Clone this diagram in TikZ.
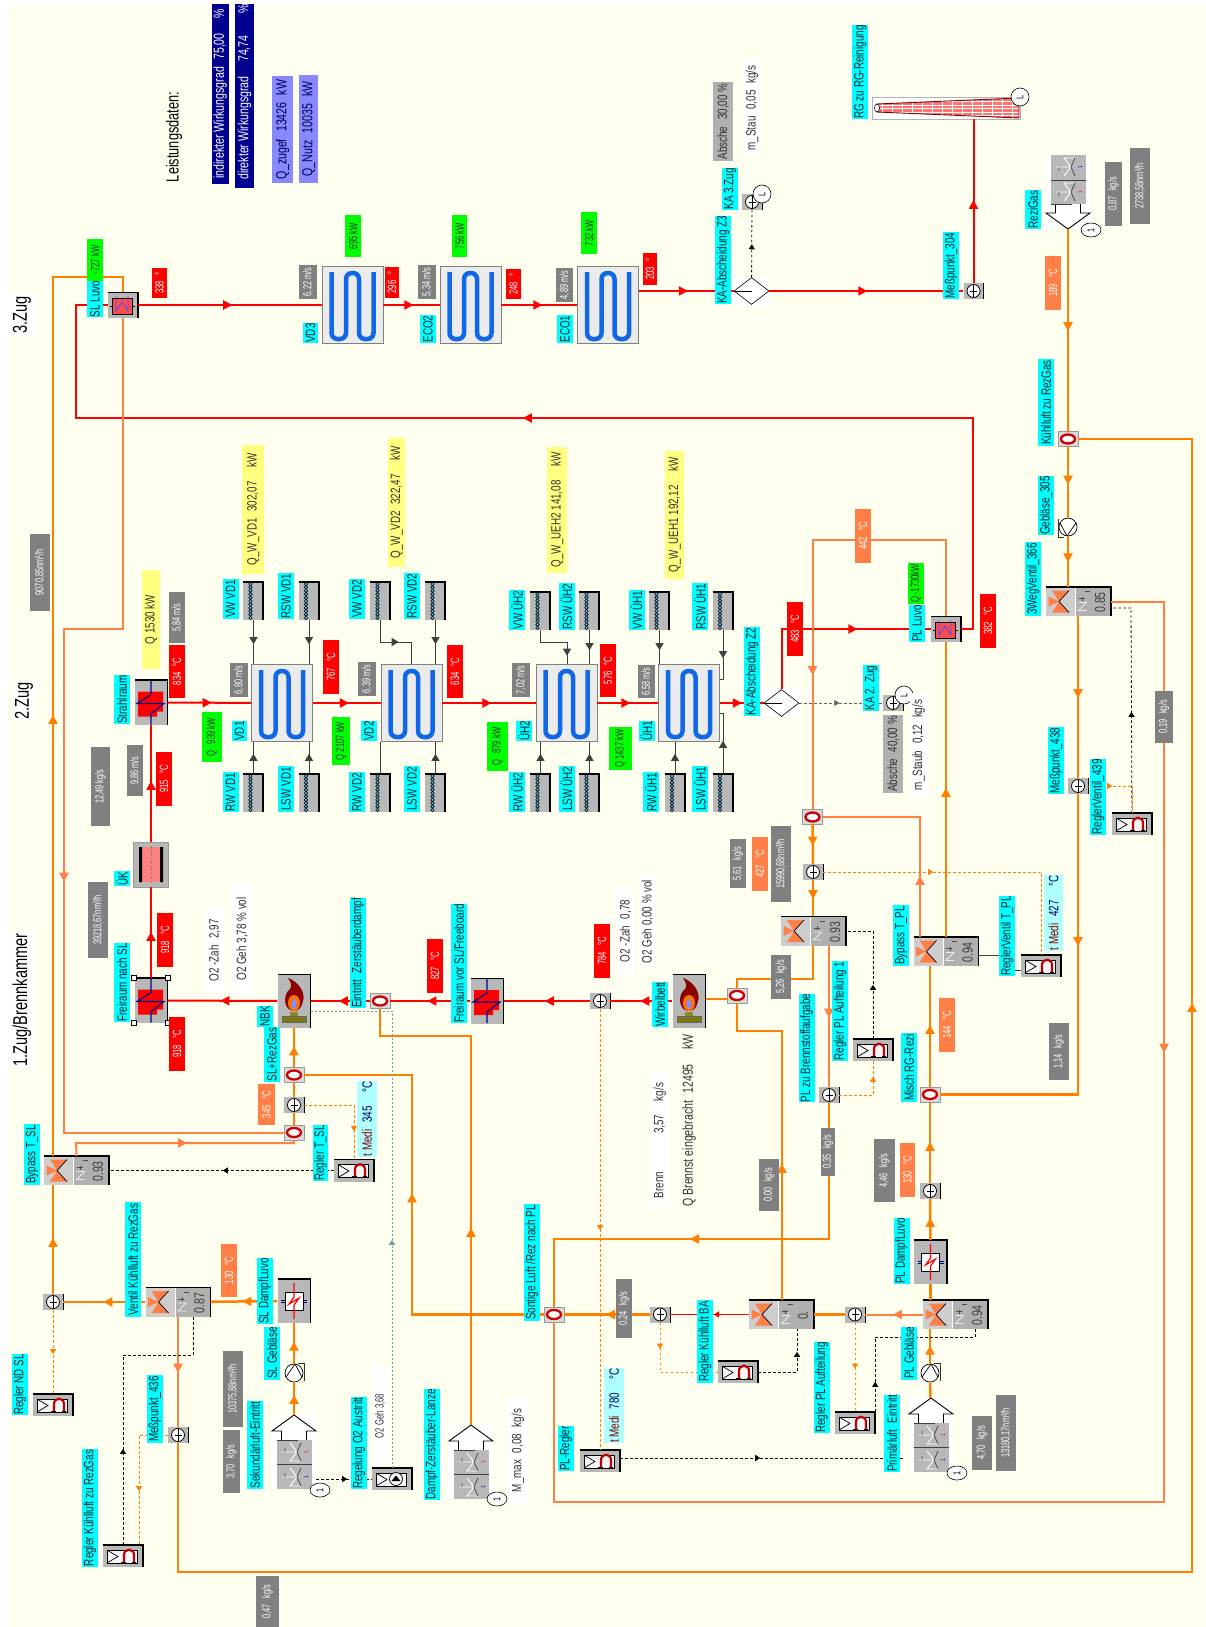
\documentclass[tikz,border=0pt]{standalone}
\usepackage{fontspec}
\setmainfont{Liberation Sans}[FakeStretch=0.73]
\newfontfamily\narrowfont{Liberation Sans}[FakeStretch=0.64]
\usetikzlibrary{arrows.meta,positioning,shapes.geometric,calc,decorations.markings}
\definecolor{ivory}{RGB}{255,255,240}
\definecolor{tagcyan}{RGB}{0,255,255}
\definecolor{tagtext}{RGB}{0,40,55}
\definecolor{kwgreen}{RGB}{0,255,0}
\definecolor{gasred}{RGB}{255,0,0}
\definecolor{airorange}{RGB}{255,128,0}
\definecolor{coralair}{RGB}{255,127,70}
\definecolor{valgray}{RGB}{128,128,128}
\definecolor{ashgray}{RGB}{176,176,176}
\definecolor{casegray}{RGB}{184,184,184}
\definecolor{qyellow}{RGB}{255,255,128}
\definecolor{navyq}{RGB}{0,0,144}
\definecolor{lavq}{RGB}{136,136,255}
\definecolor{medicyan}{RGB}{175,255,255}
\definecolor{coilblue}{RGB}{16,104,232}
\definecolor{ctrlteal}{RGB}{112,160,160}
\newcommand{\tagfont}{\fontsize{13.5}{15}\selectfont}
\newcommand{\valfont}{\narrowfont\fontsize{12}{13}\selectfont}
\tikzset{
  ftip/.tip={Triangle[length=9pt,width=9pt]},
  ctip/.tip={Triangle[length=5pt,width=6pt]},
  wtip/.tip={Triangle[length=7pt,width=8pt]},
  flow/.style={postaction={decorate,decoration={markings,mark=at position #1 with {\arrow{ftip}}}}},
  cflow/.style={postaction={decorate,decoration={markings,mark=at position #1 with {\arrow{ctip}}}}},
  wflow/.style={postaction={decorate,decoration={markings,mark=at position #1 with {\arrow{wtip}}}}},
  gas/.style={color=gasred,line width=2pt},
  gasthin/.style={color=gasred,line width=1.2pt},
  air/.style={color=airorange,line width=2.5pt},
  coral/.style={color=coralair,line width=2pt},
  ctrl/.style={color=black,line width=.8pt,dash pattern=on 2.5pt off 2.5pt},
  ctrlor/.style={color=airorange,line width=.8pt,dash pattern=on 2.5pt off 2.5pt},
  ctrlteal/.style={color=ctrlteal,line width=.9pt,dash pattern=on 2pt off 2pt},
  wire/.style={color=black!75,line width=.9pt},
  bx/.style 2 args={minimum width=#1pt,minimum height=#2pt},
  lab/.style={rotate=90,inner sep=0pt,font=\tagfont},
  tagbox/.style={lab,fill=tagcyan,text=tagtext},
  kwbox/.style={lab,fill=kwgreen,text=black!80,font=\valfont},
  redbox/.style={lab,fill=gasred,text=white,font=\valfont},
  orbox/.style={lab,fill=coralair,text=white,font=\valfont},
  graybox/.style={lab,fill=valgray,text=white,font=\narrowfont\fontsize{11.5}{13}\selectfont},
  ashbox/.style={lab,fill=ashgray,text=black!80},
  whitebox/.style={lab,fill=white,text=black!80},
  yelbox/.style={lab,fill=qyellow,text=black!80},
  navybox/.style={lab,fill=navyq,text=white,font=\fontsize{14.5}{16}\selectfont},
  lavbox/.style={lab,fill=lavq,text=navyq!60!black,font=\fontsize{14.5}{16}\selectfont},
  medibox/.style={lab,fill=medicyan,text=navyq!70!black},
  zugbox/.style={lab,fill=white,text=black,font=\fontsize{20}{22}\selectfont},
  hxcase/.style={draw=black!50,fill=black!8,line width=.8pt,bx={61}{77},inner sep=0pt},
  unit/.style={fill=casegray,inner sep=0pt},
  ventcase/.style={draw=black!40,fill=black!15,inner sep=0pt,bx={20}{15}},
  meascase/.style={unit,bx={20}{16}},
  sep/.style={diamond,aspect=1.3,draw=black,fill=white,line width=.6pt,bx={35}{27},inner sep=0pt},
  lcirc/.style={circle,draw=black,fill=white,minimum size=18pt,inner sep=0pt,rotate=90,font=\fontsize{10}{11}\selectfont,line width=.6pt},
  numell/.style={ellipse,draw=black,fill=white,bx={14}{20},inner sep=0pt,rotate=90,font=\fontsize{10}{11}\selectfont,line width=.6pt},
  edge/.style={black,line width=1.2pt}
}
\newcommand{\hxunit}[3]{
  \begin{scope}[shift={(#2,#3)}]
    \node[hxcase] (#1) at (0,0) {};
    \draw[coilblue,line width=4.5pt,rounded corners=6pt] (-21,-33)--(-21,34)--(-6.5,34)--(-6.5,-32)--(6.5,-32)--(6.5,34)--(21,34)--(21,-33);
  \end{scope}}
\newcommand{\coilbox}[3]{
  \begin{scope}[shift={(#2,#3)}]
    \node[unit,bx={21}{38}] (#1) at (0,0) {};
    \draw[edge] (-10.5,-19)--(10.5,-19);
    \draw[black,line width=2pt] (9.5,-19)--(9.5,19);
    \foreach \cy in {-17,-13.6,...,17}
      \draw[black,fill=cyan!70,line width=.6pt] (-3,\cy) circle[radius=1.8pt];
  \end{scope}}
\newcommand{\radunit}[3]{
  \begin{scope}[shift={(#2,#3)}]
    \node[unit,bx={33}{45}] (#1) at (0,0) {};
    \draw[edge] (-16.5,-22.5)--(16.5,-22.5)--(16.5,22.5);
    \fill[gasred] (-13,-11)--(12,-11)--(12,9)--(6,9)--(6,14)--(-13,14)--cycle;
    \draw[navyq,line width=1.1pt] (0,-22)--(0,-8)--(-14,1)--(13,1)--(0,11)--(0,22);
  \end{scope}}
\newcommand{\luvo}[3]{
  \begin{scope}[shift={(#2,#3)}]
    \node[unit,bx={30}{25}] (#1) at (0,0) {};
    \draw[edge] (-15,-12.5)--(15,-12.5)--(15,12.5);
    \draw[black,fill=red!70!white,line width=.8pt] (-11,-7) rectangle (9,9);
    \draw[black,line width=.8pt] (-13,1)--(-11,1) (9,1)--(12,1);
    \draw[blue!70!white,line width=.9pt] (-7,-9)--(-7,6)--(-1,-3)--(5,6)--(5,-9);
  \end{scope}}
\newcommand{\burner}[3]{
  \begin{scope}[shift={(#2,#3)}]
    \node[unit,bx={33}{53}] (#1) at (0,0) {};
    \draw[edge] (-16.5,-26.5)--(16.5,-26.5)--(16.5,26.5);
    \fill[red!55!black] (0,10) .. controls (-10,10) and (-12,-6) .. (-4,-12) .. controls (-1,-15) and (-4,-20) .. (-6,-23) .. controls (4,-20) and (12,-8) .. (9,0) .. controls (8,6) and (5,10) .. (0,10) -- cycle;
    \fill[orange!90!red] (0,2) ellipse[x radius=6pt,y radius=8pt];
    \fill[lavq] (0,3) ellipse[x radius=2.5pt,y radius=5pt];
    \fill[olive!80!black!85] (-4,11) rectangle (4,15);
    \draw[black!60,fill=olive!85!black] (-12,15) rectangle (12,21);
  \end{scope}}
\newcommand{\dampfunit}[3]{
  \begin{scope}[shift={(#2,#3)}]
    \node[unit,bx={33}{44}] (#1) at (0,0) {};
    \draw[edge] (-16.5,-22)--(16.5,-22)--(16.5,22);
    \draw[black,fill=white,line width=.8pt] (-9,-9) rectangle (9,9);
    \draw[navyq,line width=.8pt] (-13,-1)--(-9,-1) (-13,1.5)--(-9,1.5) (9,-1)--(13,-1) (9,1.5)--(13,1.5);
    \draw[gasred,line width=1.2pt] (0,-18)--(0,-4)--(-5,3)--(5,-3)--(0,4)--(0,18);
  \end{scope}}
\newcommand{\meas}[3]{
  \begin{scope}[shift={(#2,#3)}]
    \node[meascase] (#1) at (0,0) {};
    \draw[black,fill=white,line width=.8pt] (0,0) circle[radius=6.5pt];
    \draw[black,line width=.8pt] (0,-6)--(0,6) (-3.5,0)--(3.5,0);
    \draw[black,line width=.8pt] (10,-8)--(10,8);
  \end{scope}}
\newcommand{\ventil}[3]{
  \begin{scope}[shift={(#2,#3)}]
    \node[ventcase] (#1) at (0,0) {};
    \draw[red!80!black,fill=white,line width=2.3pt] (0,0) ellipse[x radius=7pt,y radius=4.5pt];
  \end{scope}}
\newcommand{\valve}[4]{
  \begin{scope}[shift={(#2,#3)}]
    \node[unit,fill=ashgray,bx={65}{29}] (#1) at (0,0) {};
    \fill[casegray!70!white] (-32.5,-14.5) rectangle (-3,14.5);
    \fill[coralair] (-26.5,-11)--(-9.5,-11)--(-19.5,0)--cycle;
    \fill[coralair] (-26.5,11)--(-9.5,11)--(-19.5,0)--cycle;
    \fill[coralair] (-30,-5)--(-30,5)--(-19.5,0)--cycle;
    \draw[black,line width=.7pt] (-9.5,-11)--(-19.5,0)--(-9.5,11);
    \draw[white,line width=.3pt] (-3,-14.5)--(-3,14.5);
    \draw[white!85!gray,line width=.8pt] (0,1)--(8,1)--(0,9)--(8,9);
    \draw[black!70,line width=.7pt] (0,-3)--(6,-3) (4,-5)--(4,-1) (6,-10)--(11,-10);
    \node[lab,font=\fontsize{14.5}{16}\selectfont,text=black!75] (#1val) at (21.5,1) {#4};
    \draw[edge] (-32.5,-14.5)--(32.5,-14.5)--(32.5,14.5);
  \end{scope}}
\newcommand{\reglerbody}[3]{
  \begin{scope}[shift={(#2,#3)}]
    \node[unit,bx={40}{22}] (#1) at (0,0) {};
    \draw[edge] (-20,-11)--(20,-11)--(20,11);
    \draw[black,fill=white!92!gray,line width=.7pt] (-16,-6) rectangle (14,7);
    \draw[black,line width=.7pt] (-16,-6)--(-5,.5)--(-16,7);
  \end{scope}}
\newcommand{\regler}[3]{
  \reglerbody{#1}{#2}{#3}
  \begin{scope}[shift={(#2,#3)}]
    \draw[red!75!black,line width=2.2pt] (1,6)--(1,-1) .. controls (1,-8) and (11,-8) .. (11,-1) -- (11,6);
    \draw[black,line width=1.2pt] (-2,6.5)--(3,6.5) (9,6.5)--(13,6.5);
  \end{scope}}
\newcommand{\source}[4]{
  \begin{scope}[shift={(#2,#3)},yscale=#4]
    \node[fill=white,inner sep=0pt,bx={44}{74}] (#1) at (0,37) {};
    \draw[black,line width=.9pt] (-12.5,25)--(-12.5,16)--(-22,16)--(0,0)--(22,16)--(12.5,16)--(12.5,25);
    \fill[casegray] (-17.5,25) rectangle (17.5,74);
    \draw[black!75,line width=.9pt] (-17.5,25)--(4,25) (-17.5,49)--(17.5,49);
    \foreach \py in {37,62} {
      \draw[white,line width=.9pt] (-4,\py-9)--(3,\py)--(-4,\py+9)--(7,\py+9) (-12,\py)--(3,\py);
      \draw[black!70,line width=.8pt] (7,\py-9)--(3,\py)--(7,\py+9) (-9,\py-4)--(-9,\py);
    }
    \node[lab,text=gasred,font=\fontsize{6}{7}\selectfont] (#1a) at (12,37) {1.};
    \node[lab,text=navyq,font=\fontsize{6}{7}\selectfont] (#1b) at (12,62) {1.};
  \end{scope}}
\newcommand{\pump}[4]{
  \begin{scope}[shift={(#2,#3)},xscale=#4,yscale=#4]
    \node[circle,draw=black,fill=white,minimum size=18pt,inner sep=0pt,line width=.7pt] (#1) at (0,0) {};
    \draw[black,line width=.7pt] (1,-9)--(-8,4) (1,-9)--(8,4);
    \draw[black!80,line width=.8pt] (4,-10)--(10,-10)--(10,8);
  \end{scope}}
\begin{document}
\begin{tikzpicture}[x=1pt,y=-1pt,font=\tagfont]
  \useasboundingbox (0,0) rectangle (1206,1627);
  \fill[white] (0,0) rectangle (1206,1627);
  \fill[ivory] (8,4) rectangle (1206,1627);

  \luvo{slluvo}{123}{305}
  \hxunit{vd3}{352.5}{305}
  \hxunit{eco2}{470.5}{305}
  \hxunit{eco1}{608}{305}
  \fill[white] (733,277) rectangle (769,306);
  \node[sep] (dz3) at (751.5,291) {};
  \draw[black,line width=.8pt] (dz3.west) -- (dz3.center);
  \meas{mka3}{752}{202}
  \node[lcirc] (lka3) at (762,194) {L};
  \meas{m304}{973.5}{291}
  \node[draw=black!30,fill=white,inner sep=0pt,bx={148}{22}] (rgst) at (946,108) {};
  \begin{scope}
    \clip (877,104)--(1019,98)--(1019,118)--(877,112)--cycle;
    \fill[red!55!white] (877,96) rectangle (1019,120);
    \foreach \gx in {882,892,...,1018}
      \draw[white,line width=.9pt] (\gx,96)--(\gx,120);
    \foreach \gy in {101.5,105,108.5,112,115}
      \draw[white,line width=.9pt] (877,\gy)--(1019,\gy);
  \end{scope}
  \draw[red!50!black,line width=.9pt] (877,104)--(1019,98)--(1019,118)--(877,112)--cycle;
  \draw[black,fill=white,line width=.6pt] (877,108) ellipse[x radius=2.5pt,y radius=4pt];
  \node[lcirc] (lrg) at (1020,97) {L};
  \source{rezi}{1068}{229}{-1}
  \node[numell] (onerezi) at (1091,230) {1};
  \ventil{vkuehl}{1068}{439}
  \pump{gebl}{1068}{527}{-1}
  \valve{vweg}{1078.5}{601.5}{0.85}
  \meas{m438}{1078}{786}
  \regler{rvent}{1132}{824}
  \radunit{strahl}{151}{702.5}
  \node[unit,draw=black!40,bx={35}{45}] (uk) at (151,864.5) {};
  \fill[red!50!white] (140,847) rectangle (163,882);
  \fill[black] (139,847) rectangle (142,882) (160,847) rectangle (163,882);
  \draw[black!50,dash dot,line width=.5pt] (151,846)--(151,883);
  \radunit{frnach}{151}{1000.5}
  \foreach \hx/\hy in {134/978,168/978,134/1023,168/1023}
    \draw[black,fill=white,line width=.6pt] (\hx-2.5,\hy-2.5) rectangle (\hx+2.5,\hy+2.5);
  \burner{nbk}{294}{1001}
  \ventil{vzer}{380}{1001}
  \radunit{frvor}{487}{1001}
  \meas{mwb}{600}{1001}
  \burner{wirbel}{689}{1001}
  \ventil{vwb}{737}{995.5}
  \hxunit{vd1}{282}{703}
  \hxunit{vd2}{411.5}{703}
  \hxunit{uh2}{566.5}{703}
  \hxunit{uh1}{689}{703}
  \coilbox{vwvd1}{253.5}{601}
  \coilbox{rswvd1}{309}{601}
  \coilbox{rwvd1}{253.5}{793}
  \coilbox{lswvd1}{309}{793}
  \coilbox{vwvd2}{380.5}{601}
  \coilbox{rswvd2}{435.5}{601}
  \coilbox{rwvd2}{380.5}{793}
  \coilbox{lswvd2}{435.5}{793}
  \coilbox{vwuh2}{540.5}{611}
  \coilbox{rswuh2}{589.5}{611}
  \coilbox{rwuh2}{540.5}{793}
  \coilbox{lswuh2}{589.5}{793}
  \coilbox{vwuh1}{659.5}{611}
  \coilbox{rswuh1}{723}{611}
  \coilbox{rwuh1}{675}{793}
  \coilbox{lswuh1}{723}{793}
  \fill[white] (763,688) rectangle (799,718);
  \node[sep] (dz2) at (781.5,703) {};
  \draw[black,line width=.8pt] (dz2.west) -- (dz2.center);
  \meas{mka2}{893}{703}
  \node[lcirc] (lka2) at (904,695) {L};
  \luvo{plluvo}{946}{629}
  \ventil{vbyp}{812.5}{817}
  \meas{mtpl}{813}{872}
  \valve{vauf}{813.5}{931}{0.93}
  \valve{bypl}{946}{951.5}{0.94}
  \regler{rtpl}{1041}{966}
  \regler{rauf}{873}{1050}
  \meas{mauf}{829}{1095}
  \ventil{vmisch}{930}{1094.5}
  \meas{mpl}{930}{1191}
  \dampfunit{pldampf}{930.5}{1262}
  \valve{vplb}{955.5}{1314.5}{0.94}
  \meas{mplb}{855}{1314.5}
  \valve{vba}{781.5}{1314.5}{0.}
  \meas{mba}{660}{1314.5}
  \ventil{vsont}{554}{1314.5}
  \regler{rba}{738}{1372}
  \regler{rplauf}{855}{1423}
  \regler{rpl}{600}{1461}
  \pump{plgeb}{930}{1373}{1}
  \source{primq}{931}{1398}{1}
  \node[numell] (oneprim) at (957,1473) {1};
  \source{dampfq}{471}{1425}{1}
  \node[numell] (onedampf) at (497,1499) {1};
  \reglerbody{ro2}{392}{1479}
  \draw[black,fill=white!92!gray,line width=.7pt] (396,1479) circle[radius=6.5pt];
  \fill[black] (391.5,1481)--(396,1475.5)--(400.5,1481)--cycle;
  \source{sekq}{294}{1415}{1}
  \node[numell] (onesek) at (320,1490) {1};
  \pump{slgeb}{294}{1373}{1}
  \dampfunit{sldampf}{294}{1301}
  \valve{vrez}{178}{1302}{0.87}
  \meas{m436}{178}{1435}
  \meas{mnd}{53}{1302}
  \regler{rnd}{53}{1405}
  \regler{rrez}{123}{1556}
  \valve{bysl}{76.5}{1170.5}{0.93}
  \regler{rtsl}{354}{1170.5}
  \ventil{vsla}{294}{1132.5}
  \meas{mtsl}{294}{1105}
  \ventil{vslb}{294}{1075}

  \coordinate (gasa) at (973,418);
  \coordinate (gasb) at (76,418);
  \coordinate (lpa) at (1078,1094.5);
  \coordinate (lpb) at (1164,1502);
  \coordinate (lpc) at (1192,1572);
  \coordinate (lpd) at (53,277);
  \coordinate (lpe) at (64,629);
  \coordinate (lpf) at (76,1143);
  \coordinate (lpg) at (412,1075);
  \coordinate (lph) at (471,1036);
  \coordinate (lpi) at (920,817);
  \coordinate (lpj) at (812.5,540);
  \coordinate (lpk) at (813,979);
  \coordinate (lpl) at (728,999);
  \coordinate (lpm) at (782,1031);
  \coordinate (lpn) at (829,1239);
  \coordinate (cta) at (1131,608);
  \coordinate (ctb) at (1005,955);
  \coordinate (ctc) at (1005,970);
  \coordinate (ctd) at (392,1011);
  \coordinate (cte) at (905,1458);
  \coordinate (ctf) at (797,1372);
  \coordinate (ctg) at (975,1337);
  \coordinate (cth) at (123,1355);
  \coordinate (cti) at (193,1355);
  \coordinate (ctj) at (139,1435);
  \coordinate (wra) at (380.5,642);
  \coordinate (wrb) at (411.5,642);
  \coordinate (wrc) at (540.5,642);
  \coordinate (wrd) at (567,642);
  \coordinate (wre) at (723,679);
  \coordinate (wrf) at (723,713);

  \draw[gas,flow=94pt] (slluvo) -- (vd3);
  \draw[gas,flow=30pt] (vd3) -- (eco2);
  \draw[gas,flow=41pt] (eco2) -- (eco1);
  \draw[gas,flow=49pt] (eco1.east |- dz3) -- (dz3);
  \draw[gas,flow=98pt] (dz3) -- (m304);
  \draw[gas,flow=83pt] (m304) -- (rgst.south -| m304);
  \draw[ctrl,cflow=33pt] (dz3) -- (mka3);
  \draw[gas,flow=673pt] (plluvo) -| (gasa) -- (gasb) |- (slluvo);
  \draw[gas,flow=46pt] (frnach) -- (uk);
  \draw[gas,flow=61pt] (uk) -- (strahl);
  \draw[gas,flow=44pt] (strahl) -- (vd1);
  \draw[gas,flow=36pt] (vd1) -- (vd2);
  \draw[gas,flow=49pt] (vd2) -- (uh2);
  \draw[gas,flow=33pt] (uh2) -- (uh1);
  \draw[gas,flow=22pt] (uh1) -- (dz2);
  \draw[gas,flow=136pt] (dz2) |- (plluvo);
  \draw[ctrl,color=black!60,cflow=40pt] (dz2) -- (mka2);
  \draw[gas,flow=32pt] (wirbel) -- (mwb);
  \draw[gas,flow=45pt] (mwb) -- (frvor);
  \draw[gas,flow=43pt] (frvor) -- (vzer);
  \draw[gas,flow=31pt] (vzer) -- (nbk);
  \draw[gas,flow=57pt] (nbk) -- (frnach);

  \draw[air,flow=102pt] (rezi) -- (vkuehl);
  \draw[air,flow=38pt] (vkuehl) -- (gebl);
  \draw[air,flow=26pt] (gebl) -- (vweg.north -| gebl);
  \draw[air,flow=82pt] (vweg.south -| m438) -- (m438);
  \draw[air,flow=152pt] (m438) |- (vmisch);
  \draw[coral,flow=504pt] (vweg.east) -| (lpb) -| (vsont);
  \draw[air,flow=1712pt] (m436) |- (lpc) |- (vkuehl);
  \draw[coral,line width=2.5pt,flow=56pt] (vrez.south -| m436) -- (m436);
  \draw[air,flow=35pt] (sldampf) -- (vrez);
  \draw[air,flow=42pt] (vrez) -- (mnd);
  \draw[air,flow=56pt] (mnd) -- (bysl.south -| mnd);
  \draw[air,flow=441pt] (bysl.north -| mnd) -- (lpd) -| (slluvo);
  \draw[coral,flow=623pt] (slluvo) |- (lpe) |- (vsla);
  \draw[air] (vsla) -- (mtsl);
  \draw[air] (mtsl) -- (vslb);
  \draw[air,flow=21pt] (vslb) -- (nbk);
  \draw[coral,flow=124pt] (bysl.north) -- (lpf) -| (vsla);
  \draw[air,flow=253pt] (vsont) -| (lpg) -- (vslb);
  \draw[air,flow=197pt] (dampfq) -- (lph) -| (vzer);
  \draw[air,flow=20pt] (sekq) -- (slgeb);
  \draw[air,flow=22pt] (slgeb) -- (sldampf);
  \draw[air] (primq) -- (plgeb);
  \draw[air,flow=18pt] (plgeb) -- (vplb.south -| plgeb);
  \draw[air] (vplb.north -| pldampf) -- (pldampf);
  \draw[air,flow=22pt] (pldampf) -- (mpl);
  \draw[air,flow=41pt] (mpl) -- (vmisch);
  \draw[air,flow=62pt] (vmisch) -- (bypl.south -| vmisch);
  \draw[air,flow=149pt] (bypl) -- (plluvo);
  \draw[coral,flow=61pt] (bypl.north -| lpi) -- (lpi) -- (vbyp);
  \draw[coral,flow=345pt] (plluvo) |- (lpj) -- (vbyp);
  \draw[air,flow=21pt] (vbyp) -- (mtpl);
  \draw[air,flow=19pt] (mtpl) -- (vauf.north -| mtpl);
  \draw[air] (vauf.south -| mtpl) -- (lpk) -| (vwb);
  \draw[air] (wirbel.east |- lpl) -- (lpl);
  \draw[air,flow=136pt] (vba.north -| lpm) -- (lpm) -| (vwb);
  \draw[coral,line width=2.5pt,flow=72pt] (vauf.south -| mauf) -- (mauf);
  \draw[air,flow=275pt] (mauf) -- (lpn) -| (vsont);
  \draw[coral,flow=30pt] (vplb) -- (mplb);
  \draw[air] (mplb) -- (vba);
  \draw[gasthin,cflow=35pt] (vba) -- (mba);
  \draw[air,flow=44pt] (mba) -- (vsont);

  \draw[ctrl,cflow=111pt] (rtsl) -- (bysl);
  \draw[ctrlor,cflow=76pt] (mtsl) -| (rtsl);
  \draw[ctrl,cflow=101pt] (rvent) -- (cta) -- (vweg.east |- cta);
  \draw[ctrlor,cflow=24pt] (m438) -| (rvent);
  \draw[ctrl,cflow=54pt] (rauf) |- (vauf);
  \draw[ctrlor,cflow=52pt] (mauf) -| (rauf);
  \draw[ctrlor,cflow=110pt] (mtpl) -| (rtpl);
  \draw[wire] (bypl.east |- ctb) -- (ctb) -- (ctc) -- (rtpl.west |- ctc);
  \draw[ctrlteal,cflow=228pt] (ro2) -- (ctd) -- (nbk.east |- ctd);
  \draw[ctrl,cflow=31pt] (sekq.east |- ro2) -- (ro2);
  \draw[ctrl,cflow=140pt] (rpl.east |- cte) -- (cte);
  \draw[ctrlor,cflow=221pt] (mwb) -- (rpl);
  \draw[ctrlor,cflow=26pt] (mba) |- (rba);
  \draw[ctrl,cflow=59pt] (rba) -- (ctf) -- (vba.south -| ctf);
  \draw[ctrlor,cflow=46pt] (mplb) -- (rplauf);
  \draw[ctrl,cflow=30pt] (rplauf.north east) |- (ctg) -- (vplb.south -| ctg);
  \draw[ctrlor,cflow=44pt] (mnd) -- (rnd);
  \draw[ctrl,cflow=96pt] (rrez) -- (cth) -- (cti) -- (vrez.south -| cti);
  \draw[ctrlor,cflow=85pt] (m436) -- (ctj) -- (rrez.north -| ctj);

  \draw[wire,wflow=24pt] (vwvd1) -- (vd1.north -| vwvd1);
  \draw[wire,wflow=24pt] (rswvd1) -- (vd1.north -| rswvd1);
  \draw[wire,wflow=20pt] (rwvd1) -- (vd1.south -| rwvd1);
  \draw[wire,wflow=20pt] (lswvd1) -- (vd1.south -| lswvd1);
  \draw[wire,wflow=40pt] (vwvd2) -- (wra) -- (wrb) -- (vd2);
  \draw[wire,wflow=24pt] (rswvd2) -- (vd2.north -| rswvd2);
  \draw[wire,wflow=32pt] (rwvd2) -- (vd2.south -| rwvd2);
  \draw[wire,wflow=20pt] (lswvd2) -- (vd2.south -| lswvd2);
  \draw[wire,wflow=52pt] (vwuh2) -- (wrc) -- (wrd) -- (uh2.north -| wrd);
  \draw[wire,wflow=20pt] (rswuh2) -- (uh2.north -| rswuh2);
  \draw[wire,wflow=20pt] (rwuh2) -- (uh2.south -| rwuh2);
  \draw[wire,wflow=20pt] (lswuh2) -- (uh2.south -| lswuh2);
  \draw[wire,wflow=20pt] (vwuh1) -- (uh1.north -| vwuh1);
  \draw[wire,wflow=28pt] (rswuh1) -- (wre) -- (uh1.east |- wre);
  \draw[wire,wflow=20pt] (rwuh1) -- (uh1.south -| rwuh1);
  \draw[wire,wflow=33pt] (lswuh1) -- (wrf) -- (uh1.east |- wrf);

  \node[zugbox,bx={42}{28}] (zug3) at (22,315) {3.Zug};
  \node[zugbox,bx={40}{22}] (zug2) at (24,701) {2.Zug};
  \node[zugbox,bx={138}{26}] (zug1) at (22,1000) {1.Zug/Brennkammer};
  \node[lab,text=black,font=\fontsize{17.5}{19}\selectfont] (leist) at (174,137) {Leistungsdaten:};
  \node[navybox,bx={180}{17}] (eta1) at (220,94) {indirekter Wirkungsgrad\enspace 75,00\enspace\enspace\%};
  \node[navybox,bx={192}{19}] (eta2) at (244.5,92) {direkter Wirkungsgrad\enspace\enspace 74,74\enspace\enspace\enspace\%};
  \node[lavbox,bx={107}{21}] (qzu) at (282.5,129.5) {Q\_zugef\enspace 13426\enspace kW};
  \node[lavbox,bx={108}{19}] (qnu) at (308.5,129) {Q\_Nutz\enspace 10035\enspace kW};

  \node[tagbox,bx={36}{16}] (tslluvo) at (95,299) {SL Luvo};
  \node[kwbox,bx={42}{16}] (kslluvo) at (95,260) {-727 kW};
  \node[redbox,bx={30}{15}] (tg338) at (159.5,283) {338\enspace °};
  \node[graybox,bx={34}{18}] (sp622) at (308,282) {6,22 m/s};
  \node[tagbox,bx={20}{15}] (tvd3) at (310.5,333) {VD3};
  \node[kwbox,bx={42}{16}] (kvd3) at (353,236) {695 kW};
  \node[redbox,bx={31}{14}] (tg296) at (392,282.5) {296\enspace °};
  \node[graybox,bx={34}{18}] (sp534) at (427,282) {5,34 m/s};
  \node[tagbox,bx={28}{16}] (teco2) at (428,329) {ECO2};
  \node[kwbox,bx={42}{15}] (keco2) at (459.5,236) {756 kW};
  \node[redbox,bx={30}{15}] (tg248) at (513.5,284) {248\enspace °};
  \node[graybox,bx={34}{17}] (sp489) at (564.5,285) {4,89 m/s};
  \node[tagbox,bx={28}{16}] (teco1) at (565,329) {ECO1};
  \node[kwbox,bx={42}{16}] (keco1) at (589,233) {732 kW};
  \node[redbox,bx={32}{14}] (tg203) at (650,269) {203\enspace °};
  \node[tagbox,bx={88}{16}] (tkaz3) at (723,260) {KA-Abscheidung Z3};
  \node[tagbox,bx={42}{16}] (tka3) at (730,189) {KA 3.Zug};
  \node[ashbox,bx={79}{20}] (ash3) at (723,121.5) {Absche\enspace 30,00 \%};
  \node[whitebox,bx={94}{18}] (st3) at (752,108) {m\_Stau\enspace 0,05\enspace kg/s};
  \node[tagbox,bx={67}{16}] (tm304) at (951,265.5) {Meßpunkt\_304};
  \node[tagbox,bx={94}{16}] (trg) at (860,72) {RG zu RG-Reinigung};
  \node[tagbox,bx={39}{16}] (trezi) at (1033,209.5) {ReziGas};
  \node[graybox,bx={64}{17}] (mf087) at (1113.5,194) {0,87\enspace kg/s};
  \node[graybox,bx={76}{20}] (nm2738) at (1140,186) {2738,58nm³/h};
  \node[orbox,bx={54}{16}] (tg189) at (1053,283) {189\enspace °C};
  \node[tagbox,bx={87}{16}] (tkuehl) at (1046,402.5) {Kühlluft zu RezGas};
  \node[tagbox,bx={59}{16}] (tgebl) at (1046,505.5) {Gebläse\_305};
  \node[tagbox,bx={74}{16}] (tweg) at (1033,579) {3WegVentil\_366};
  \node[graybox,bx={52}{18}] (mf019) at (1164,717) {0,19\enspace kg/s};
  \node[tagbox,bx={67}{16}] (tm438) at (1056,760.5) {Meßpunkt\_438};
  \node[tagbox,bx={76}{16}] (trvent) at (1098,797) {ReglerVentil\_439};

  \node[graybox,bx={77}{20}] (nm9070) at (40,572.5) {9070,85nm³/h};
  \node[yelbox,bx={99}{18}] (q1530) at (151,619.5) {Q 1530 kW};
  \node[graybox,bx={51}{16}] (sp584) at (177,617.5) {5,84 m/s};
  \node[redbox,bx={53}{16}] (tg834) at (177,671.5) {834\enspace °C};
  \node[tagbox,bx={49}{16}] (tstrahl) at (122,699.5) {Strahlraum};
  \node[graybox,bx={79}{19}] (mf1249) at (100.5,786.5) {12,49 kg/s};
  \node[graybox,bx={51}{16}] (sp986) at (135,770.5) {9,86 m/s};
  \node[redbox,bx={54}{16}] (tg915) at (164,779) {915\enspace °C};
  \node[kwbox,bx={50}{20}] (q939) at (212,737) {Q\enspace 939 kW};
  \node[tagbox,bx={20}{15}] (tvd1) at (239.5,731) {VD1};
  \node[graybox,bx={34}{18}] (sp680) at (239,680) {6,80 m/s};
  \node[redbox,bx={54}{16}] (tg767) at (331,667) {767\enspace °C};
  \node[graybox,bx={34}{18}] (sp639) at (367,679) {6,39 m/s};
  \node[tagbox,bx={20}{16}] (tvd2) at (369,731) {VD2};
  \node[kwbox,bx={48}{18}] (q2107) at (341,741) {Q 2107 kW};
  \node[yelbox,bx={129}{22}] (qwvd1) at (253,509.5) {Q\_W\_VD1\enspace 302,07\enspace\enspace kW};
  \node[yelbox,bx={129}{17}] (qwvd2) at (396.5,502.5) {Q\_W\_VD2\enspace 322,47\enspace\enspace kW};
  \node[yelbox,bx={126}{20}] (qwuh2) at (557,510) {Q\_W\_UEH2 141,08\enspace\enspace kW};
  \node[yelbox,bx={128}{19}] (qwuh1) at (674.5,515) {Q\_W\_UEH1 192,12\enspace\enspace kW};
  \node[tagbox,bx={40}{16}] (tvwvd1) at (230.5,599) {VW VD1};
  \node[tagbox,bx={46}{16}] (trswvd1) at (286,596) {RSW VD1};
  \node[tagbox,bx={40}{16}] (trwvd1) at (230.5,792) {RW VD1};
  \node[tagbox,bx={46}{16}] (tlswvd1) at (286,789) {LSW VD1};
  \node[tagbox,bx={40}{16}] (tvwvd2) at (357,599) {VW VD2};
  \node[tagbox,bx={46}{16}] (trswvd2) at (412,596) {RSW VD2};
  \node[tagbox,bx={40}{16}] (trwvd2) at (357,792) {RW VD2};
  \node[tagbox,bx={46}{16}] (tlswvd2) at (412,789) {LSW VD2};
  \node[redbox,bx={53}{16}] (tg634) at (455,671.5) {634\enspace °C};
  \node[graybox,bx={34}{18}] (sp702) at (521,680) {7,02 m/s};
  \node[tagbox,bx={20}{16}] (tuh2) at (524,731) {ÜH2};
  \node[kwbox,bx={49}{21}] (q879) at (497.5,746.5) {Q\enspace 879 kW};
  \node[tagbox,bx={40}{16}] (tvwuh2) at (517,610) {VW ÜH2};
  \node[tagbox,bx={47}{16}] (trswuh2) at (566.5,606.5) {RSW ÜH2};
  \node[tagbox,bx={40}{16}] (trwuh2) at (517,792) {RW ÜH2};
  \node[tagbox,bx={46}{16}] (tlswuh2) at (566.5,789) {LSW ÜH2};
  \node[redbox,bx={53}{16}] (tg576) at (608,670.5) {576\enspace °C};
  \node[graybox,bx={33}{17}] (sp658) at (646.5,681.5) {6,58 m/s};
  \node[tagbox,bx={20}{16}] (tuh1) at (646.5,731) {ÜH1};
  \node[kwbox,bx={43}{23}] (q1437) at (620.5,748.5) {Q 1437 kW};
  \node[tagbox,bx={40}{16}] (tvwuh1) at (636.5,610) {VW ÜH1};
  \node[tagbox,bx={47}{16}] (trswuh1) at (700,606.5) {RSW ÜH1};
  \node[tagbox,bx={40}{16}] (trwuh1) at (651,792) {RW ÜH1};
  \node[tagbox,bx={46}{16}] (tlswuh1) at (700,789) {LSW ÜH1};
  \node[tagbox,bx={89}{16}] (tkaz2) at (752,671.5) {KA-Abscheidung Z2};
  \node[redbox,bx={54}{16}] (tg483) at (795,629) {483\enspace °C};
  \node[orbox,bx={54}{16}] (tg442) at (863,536) {442\enspace °C};
  \node[kwbox,bx={41}{16}] (q1730) at (916,583.5) {Q -1730kW};
  \node[tagbox,bx={37}{16}] (tplluvo) at (917,623.5) {PL Luvo};
  \node[redbox,bx={54}{16}] (tg382) at (988,621) {382\enspace °C};
  \node[tagbox,bx={46}{16}] (tka2) at (871,688) {KA 2. Zug};
  \node[ashbox,bx={78}{20}] (ash2) at (893,754) {Absche\enspace 40,00 \%};
  \node[whitebox,bx={104}{17}] (st2) at (918.5,745) {m\_Staub\enspace 0,12\enspace kg/s};

  \node[tagbox,bx={15}{16}] (tuk) at (122,878.5) {ÜK};
  \node[graybox,bx={76}{20}] (nm39218) at (98,920) {39218,67nm³/h};
  \node[redbox,bx={54}{16}] (tg918a) at (165,940) {918\enspace °C};
  \node[tagbox,bx={79}{16}] (tfrn) at (122,982.5) {Freiraum nach SL};
  \node[redbox,bx={54}{16}] (tg918b) at (177,1044) {918\enspace °C};
  \node[whitebox,bx={85}{19}] (o2za) at (214.5,950.5) {O2 -Zah\enspace 2,97};
  \node[whitebox,bx={112}{22}] (o2ga) at (242,939) {O2 Geh 3,78 \% vol};
  \node[tagbox,bx={21}{16}] (tnbk) at (265,1016.5) {NBK};
  \node[tagbox,bx={55}{16}] (tslrez) at (272,1054.5) {SL+RezGas};
  \node[orbox,bx={41}{17}] (tg345) at (266.5,1104.5) {345\enspace °C};
  \node[tagbox,bx={110}{16}] (tein) at (358,953) {Eintritt\enspace Zerstäuberdampf};
  \node[medibox,bx={76}{20}] (med345) at (367,1119) {\textcolor{red!50!black}{t Medi}\enspace 345\enspace\enspace °C};
  \node[tagbox,bx={61}{16}] (tbysl) at (32,1154.5) {Bypass T\_SL};
  \node[tagbox,bx={56}{15}] (trtsl) at (320.5,1153) {Regler T\_SL};
  \node[redbox,bx={54}{16}] (tg827) at (435,966) {827\enspace °C};
  \node[tagbox,bx={117}{16}] (tfrv) at (459,963.5) {Freiraum vor SL/Freeboard};
  \node[redbox,bx={54}{16}] (tg784) at (602,951) {784\enspace °C};
  \node[whitebox,bx={88}{17}] (o2zb) at (625.5,931) {O2 -Zah\enspace 0,78};
  \node[whitebox,bx={95}{15}] (o2gb) at (647.5,921.5) {O2 Geh 0,00 \% vol};
  \node[tagbox,bx={45}{16}] (twirb) at (660,1004.5) {Wirbelbett};
  \node[whitebox,bx={135}{20}] (brenn) at (660,1140.5) {Brenn\hspace{38pt}3,57\enspace\enspace kg/s};
  \node[lab,fill=ivory,text=black!80,bx={175}{16},font=\fontsize{14.5}{16}\selectfont] (qbr) at (689,1120.5) {Q Brennst eingebracht\enspace 12495\enspace\enspace kW};
  \node[graybox,bx={49}{16}] (mf561) at (738,863.5) {5,61\enspace kg/s};
  \node[orbox,bx={54}{16}] (tg427) at (760,864) {427\enspace °C};
  \node[graybox,bx={76}{20}] (nm15990) at (781,864) {15990,68nm³/h};
  \node[graybox,bx={44}{20}] (mf526) at (781,977) {5,26\enspace kg/s};
  \node[graybox,bx={52}{20}] (mf000) at (769,1185) {0,00\enspace kg/s};
  \node[tagbox,bx={108}{16}] (tbrst) at (806.5,1048) {PL zu Brennstoffaufgabe};
  \node[tagbox,bx={100}{16}] (trauf) at (840,1011) {Regler PL Aufteilung 1};
  \node[tagbox,bx={61}{16}] (tbypl) at (901,935.5) {Bypass T\_PL};
  \node[tagbox,bx={80}{16}] (trtpl) at (1007,936) {ReglerVentil T\_PL};
  \node[medibox,bx={76}{19}] (med427) at (1053.5,913) {\textcolor{red!50!black}{t Medi}\enspace 427\enspace\enspace °C};
  \node[tagbox,bx={69}{16}] (tmisch) at (909,1067.5) {Misch RG-Rezi};
  \node[orbox,bx={54}{16}] (tg144) at (947,1025) {144\enspace °C};
  \node[graybox,bx={57}{20}] (mf114) at (1059,1051.5) {1,14\enspace kg/s};
  \node[graybox,bx={48}{14}] (mf035) at (828,1152) {0,35\enspace kg/s};
  \node[graybox,bx={63}{21}] (mf446) at (884.5,1170.5) {4,46\enspace kg/s};
  \node[orbox,bx={54}{15}] (tg130b) at (907.5,1170) {130\enspace °C};

  \node[tagbox,bx={64}{16}] (tpldampf) at (901.5,1251) {PL DampfLuvo};
  \node[tagbox,bx={117}{16}] (tsont) at (532,1262.5) {Sontige Luft /Rez nach PL};
  \node[graybox,bx={59}{16}] (mf024) at (624,1308.5) {0,24\enspace kg/s};
  \node[tagbox,bx={83}{16}] (trba) at (705,1341.5) {Regler Kühlluft BA};
  \node[medibox,bx={75}{20}] (med780) at (614,1405.5) {\textcolor{red!50!black}{t Medi}\enspace 780\enspace\enspace °C};
  \node[tagbox,bx={45}{16}] (trpl) at (566,1448.5) {PL-Regler};
  \node[tagbox,bx={109}{16}] (tdampf) at (432,1444.5) {Dampf-Zerstäuber-Lanze};
  \node[whitebox,bx={105}{20}] (mmax) at (518,1450.5) {M\_max\enspace 0,08\enspace kg/s};
  \node[tagbox,bx={53}{16}] (tplgeb) at (909,1353) {PL Gebläse};
  \node[tagbox,bx={77}{16}] (tprim) at (892,1433.5) {Primärluft\enspace Eintritt};
  \node[graybox,bx={54}{20}] (mf470) at (982,1443) {4,70\enspace kg/s};
  \node[graybox,bx={76}{20}] (nm13180) at (1006,1433) {13180,17nm³/h};
  \node[tagbox,bx={91}{16}] (trplauf) at (821.5,1387.5) {Regler PL Aufteilung};

  \node[tagbox,bx={92}{16}] (tro2) at (359,1443) {Regelung O2 Austritt};
  \node[lab,fill=white,text=black!80,font=\valfont,bx={98}{16}] (o2g3) at (380,1416) {O2 Geh 3,68};
  \node[tagbox,bx={88}{16}] (tsek) at (255,1445) {Sekundärluft-Eintritt};
  \node[tagbox,bx={53}{16}] (tslgeb) at (272,1353) {SL Gebläse};
  \node[tagbox,bx={64}{16}] (tsldampf) at (265,1291) {SL DampfLuvo};
  \node[orbox,bx={53}{16}] (tg130a) at (229,1270.5) {130\enspace °C};
  \node[graybox,bx={76}{20}] (nm10375) at (233,1389) {10375,88nm³/h};
  \node[graybox,bx={63}{17}] (mf370) at (231.5,1461.5) {3,70\enspace kg/s};
  \node[tagbox,bx={115}{16}] (tvrez) at (133,1259.5) {Ventil Kühlluft zu RezGas};
  \node[tagbox,bx={61}{16}] (trnd) at (20,1384.5) {Regler ND SL};
  \node[tagbox,bx={68}{16}] (tm436) at (155,1409) {Meßpunkt\_436};
  \node[tagbox,bx={118}{16}] (trrez) at (90,1508) {Regler Kühlluft zu RezGas};
  \node[graybox,bx={51}{23}] (mf047) at (267.5,1601.5) {0,47\enspace kg/s};

  \fill[white] (0,0) rectangle (1206,4);
\end{tikzpicture}
\end{document}
